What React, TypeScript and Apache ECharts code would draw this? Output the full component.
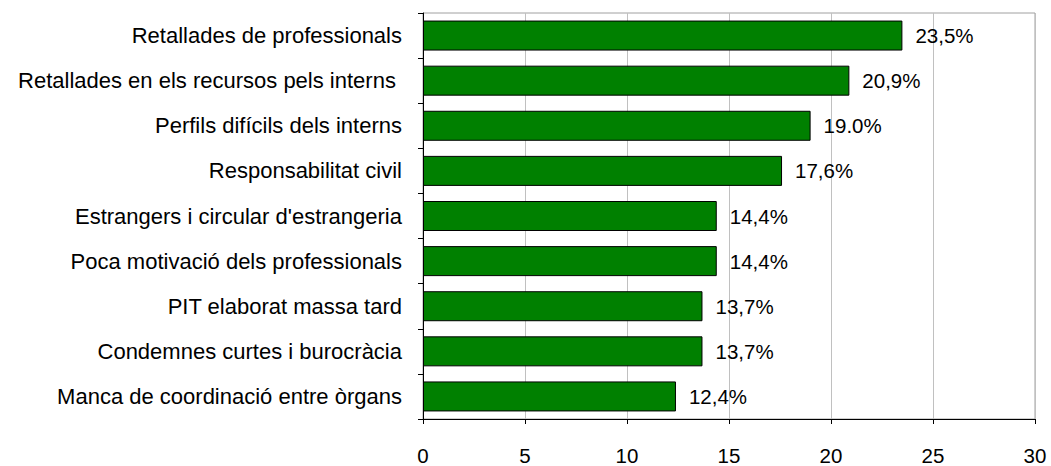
import React, { useEffect, useRef } from "react";
import * as echarts from "echarts";

const categories = [
  "Retallades de professionals",
  "Retallades en els recursos pels interns ",
  "Perfils difícils dels interns",
  "Responsabilitat civil",
  "Estrangers i circular d'estrangeria",
  "Poca motivació dels professionals",
  "PIT elaborat massa tard",
  "Condemnes curtes i burocràcia",
  "Manca de coordinació entre òrgans",
];
const values = [23.5, 20.9, 19.0, 17.6, 14.4, 14.4, 13.7, 13.7, 12.4];
const valueLabels = ["23,5%", "20,9%", "19.0%", "17,6%", "14,4%", "14,4%", "13,7%", "13,7%", "12,4%"];

export default function App() {
  const ref = useRef<HTMLDivElement>(null);
  useEffect(() => {
    if (!ref.current) return;
    const chart = echarts.init(ref.current, undefined, { renderer: "svg" });
    const font = "'Liberation Sans', Arial, sans-serif";
    chart.setOption({
      animation: false,
      textStyle: { fontFamily: font },
      grid: {
        left: 423,
        right: 16,
        top: 13,
        bottom: 47,
        show: true,
        borderColor: "#a0a0a0",
        borderWidth: 1,
        containLabel: false,
      },
      xAxis: {
        type: "value",
        min: 0,
        max: 30,
        interval: 5,
        axisLine: { show: true, lineStyle: { color: "#000", width: 1 } },
        axisTick: { show: true, length: 5, lineStyle: { color: "#000" } },
        axisLabel: { color: "#000", fontSize: 20.5, margin: 26, fontFamily: font },
        splitLine: { show: true, lineStyle: { color: "#c0c0c0", width: 1 } },
      },
      yAxis: {
        type: "category",
        data: categories,
        inverse: true,
        axisLine: { show: true, lineStyle: { color: "#000", width: 1 } },
        axisTick: { show: true, length: 5, alignWithLabel: false, lineStyle: { color: "#000" } },
        axisLabel: { color: "#000", fontSize: 22, margin: 21, fontFamily: font },
        splitLine: { show: false },
      },
      series: [
        {
          type: "bar",
          data: values,
          barWidth: 30,
          itemStyle: { color: "#008000", borderColor: "#000", borderWidth: 1 },
          label: {
            show: true,
            position: "right",
            distance: 13,
            color: "#000",
            fontSize: 20.5,
            fontFamily: font,
            formatter: (p: any) => valueLabels[p.dataIndex],
          },
        },
      ],
    });
    return () => chart.dispose();
  }, []);
  return <div ref={ref} style={{ width: 1051, height: 466, position: "absolute", left: 0, top: 0 }} />;
}
